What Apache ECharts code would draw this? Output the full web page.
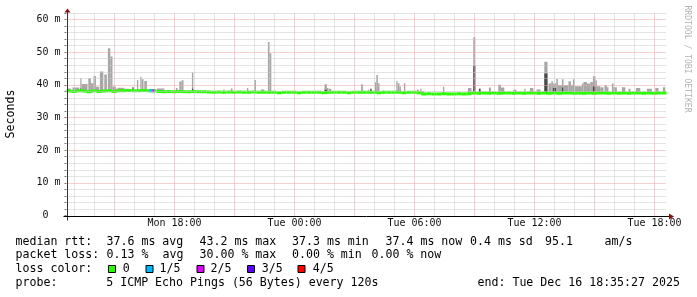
<!DOCTYPE html>
<html><head><meta charset="utf-8">
<script src="https://cdn.jsdelivr.net/npm/echarts@6/dist/echarts.min.js"></script>
<style>html,body{margin:0;padding:0;background:#fff}#c{width:697px;height:297px}</style>
</head><body><div id="c"></div>
<script>
// ---- axis ranges (hours since Mon 00:00) ----
const startHour = 12.6, endHour = 42.6;
const xTickHours = [18, 24, 30, 36, 42];
const xTickLabels = ['Mon 18:00', 'Tue 00:00', 'Tue 06:00', 'Tue 12:00', 'Tue 18:00'];
const yMax = 62;
const yTickValues = [0, 10, 20, 30, 40, 50, 60];
const yTickLabels = ['0  ', '10 m', '20 m', '30 m', '40 m', '50 m', '60 m'];

// ---- median rtt (ms), one value per 15-minute slot starting at startHour ----
const medianSlotHours = 0.25;
const medianValues = [
  38.1, 38.0, 38.2, 38.1, 37.9, 38.2, 38.0, 38.1, 38.2, 38.0,
  38.2, 38.2, 38.3, 38.2, 38.2, 38.3, 38.2, 38.2, 38.0, 37.9,
  38.0, 37.9, 38.0, 37.9, 37.9, 38.0, 37.9, 37.9, 37.8, 37.7,
  37.8, 37.7, 37.8, 37.7, 37.8, 37.7, 37.7, 37.8, 37.7, 37.7,
  37.7, 37.7, 37.6, 37.7, 37.7, 37.7, 37.6, 37.7, 37.7, 37.7,
  37.7, 37.6, 37.7, 37.7, 37.7, 37.7, 37.6, 37.7, 37.7, 37.7,
  37.7, 37.7, 37.6, 37.7, 37.7, 37.7, 37.7, 37.6, 37.7, 37.7,
  37.6, 37.2, 37.3, 37.2, 37.2, 37.3, 37.2, 37.2, 37.3, 37.2,
  37.3, 37.5, 37.4, 37.5, 37.4, 37.5, 37.4, 37.5, 37.5, 37.4,
  37.5, 37.4, 37.5, 37.5, 37.4, 37.5, 37.4, 37.5, 37.4, 37.5,
  37.5, 37.4, 37.5, 37.4, 37.5, 37.4, 37.5, 37.5, 37.4, 37.5,
  37.4, 37.5, 37.4, 37.5, 37.5, 37.4, 37.5, 37.4, 37.5, 37.5
];

// ---- packet-loss episodes on the median line ----
const lossStart = [16.74, 16.90];
const lossEnd   = [16.90, 17.02];
const lossLevel = [1, 2];
const lossColors = ['#26ff00', '#00b8ff', '#dd00ff', '#5e00ff', '#ff0000'];
const lossLabels = ['0', '1/5', '2/5', '3/5', '4/5'];

// ---- smoke (ping spread): start hour, end hour, max ms, inner (dark) ms ----
const smokeStart = [12.65,12.90,13.29,13.35,13.69,13.82,13.95,14.07,14.27,14.49,14.67,14.79,14.90,15.07,15.15,15.49,15.90,16.12,16.29,16.35,16.49,17.12,18.07,18.24,18.35,18.87,20.44,20.82,21.62,21.99,22.32,
  22.67,22.75,25.50,25.62,25.72,27.33,27.67,27.79,28.02,28.09,28.17,28.42,29.09,29.15,29.25,29.47,30.12,30.29,30.35,31.42,
  32.67,32.94,33.22,33.72,34.19,34.32,34.94,35.49,35.77,36.10,36.49,36.70,36.84,36.92,37.09,37.17,37.37,37.45,37.70,37.82,37.92,38.00,38.37,38.45,38.62,38.79,38.92,39.05,39.12,39.29,39.50,39.62,39.87,39.95,40.37,40.70,41.07,41.62,42.04,42.42];
const smokeEnd   = [12.82,13.24,13.35,13.65,13.82,13.95,14.07,14.24,14.44,14.62,14.79,14.90,15.07,15.15,15.49,15.70,15.95,16.19,16.35,16.45,16.62,17.49,18.15,18.35,18.45,18.94,20.50,20.90,21.69,22.07,22.49,
  22.75,22.84,25.62,25.70,25.84,27.42,27.72,27.85,28.09,28.17,28.25,28.49,29.15,29.25,29.32,29.54,30.22,30.35,30.49,31.49,
  32.85,33.04,33.30,33.82,34.32,34.49,35.10,35.55,35.94,36.30,36.65,36.84,36.92,37.09,37.17,37.37,37.45,37.70,37.82,37.92,38.00,38.37,38.45,38.62,38.79,38.92,39.05,39.12,39.29,39.45,39.62,39.70,39.95,40.12,40.54,40.80,41.29,41.87,42.20,42.54];
const smokeMax   = [38.9,39.2,42.0,40.3,42.0,40.5,42.7,39.4,44.1,43.2,51.2,48.7,39.5,38.8,39.1,38.8,39.3,41.5,42.5,41.7,41.2,38.9,39.0,41.0,41.4,43.8,38.6,38.9,39.0,41.5,38.6,
  53.1,49.7,40.2,39.0,38.8,40.2,38.6,38.8,40.8,43.0,40.5,38.3,41.2,40.5,39.5,40.5,38.5,38.9,38.0,39.4,
  39.0,54.6,38.8,39.2,40.0,39.2,38.5,38.8,39.0,38.6,47.1,40.4,41.1,40.4,41.8,39.9,41.7,39.9,41.1,39.9,41.7,39.6,40.4,40.9,40.4,40.9,42.6,41.3,39.6,39.3,39.9,39.3,40.4,39.3,39.3,38.8,39.0,38.8,39.0,39.3];
const smokeInner = [0,0,38.9,0,0,0,0,0,0,0,0,0,0,0,0,0,39.3,0,0,0,0,0,0,0,0,38.8,0,0,0,0,0,
  0,0,38.5,0,0,0,0,38.8,0,0,0,0,0,0,0,0,0,0,0,0,
  0,45.9,38.8,0,0,0,0,0,0,0,43.5,0,0,39.0,0,0,39.2,0,0,0,0,0,0,0,0,0,39.5,0,0,0,0,0,0,0,0,0,0,0,0,0];

function medianAt(h) {
  let i = Math.floor((h - startHour) / medianSlotHours);
  i = Math.max(0, Math.min(medianValues.length - 1, i));
  return medianValues[i];
}

const smokeData = smokeStart.map((s, i) => [s, smokeEnd[i], smokeMax[i], smokeInner[i]]);
const medianData = medianValues.map((v, i) => [startHour + i * medianSlotHours, startHour + (i + 1) * medianSlotHours, v, 0]);
lossStart.forEach((s, i) => medianData.push([s, lossEnd[i], medianAt(s), lossLevel[i]]));

// grid lines (minor every hour / 2 ms, major every 3 h / 10 ms)
const gridMarks = [];
for (let h = 13; h <= 42; h++) {
  gridMarks.push({ xAxis: h, lineStyle: { type: [1, 1], width: 1, color: h % 3 === 0 ? '#eda0a0' : '#c8c8c8' } });
}
for (let v = 2; v <= yMax; v += 2) {
  gridMarks.push({ yAxis: v, lineStyle: { type: [1, 1], width: 1, color: v % 10 === 0 ? '#eda0a0' : '#c8c8c8' } });
}

const MONO = 'DejaVu Sans Mono';
const chart = echarts.init(document.getElementById('c'), null, { renderer: 'canvas', devicePixelRatio: 1 });

const option = {
  animation: false,
  backgroundColor: '#fff',
  grid: { left: 66.5, right: 30.5, top: 13, bottom: 81.5 },
  xAxis: {
    type: 'value', min: startHour, max: endHour,
    axisLine: { show: false }, axisTick: { show: false }, splitLine: { show: false },
    axisLabel: {
      customValues: xTickHours,
      formatter: v => { const i = xTickHours.indexOf(Math.round(v)); return i >= 0 ? xTickLabels[i] : ''; },
      fontFamily: MONO, fontSize: 10, color: '#111', margin: 3
    }
  },
  yAxis: {
    type: 'value', min: 0, max: yMax, interval: 2,
    axisLine: { show: false },
    axisTick: { show: true, length: 2, lineStyle: { color: '#777' } },
    splitLine: { show: false },
    axisLabel: {
      formatter: v => { const i = yTickValues.indexOf(v); return i >= 0 ? yTickLabels[i] : ''; },
      fontFamily: MONO, fontSize: 10, color: '#111', margin: 6
    }
  },
  series: [
    {
      type: 'line', data: [], silent: true, z: 1,
      markLine: {
        silent: true, symbol: 'none', label: { show: false },
        lineStyle: { type: [1, 1], width: 1 },
        emphasis: { disabled: true },
        data: gridMarks
      }
    },
    {
      type: 'custom', z: 3, clip: true, silent: true,
      encode: { x: [0, 1], y: [2, 3] },
      data: smokeData,
      renderItem(params, api) {
        const s = api.value(0), e = api.value(1), mx = api.value(2), dk = api.value(3);
        const base = medianAt(s) - 0.3;
        const p0 = api.coord([s, base]);
        const p1 = api.coord([e, mx]);
        const w = Math.max(1, p1[0] - p0[0]);
        const ch = [{ type: 'rect', shape: { x: p0[0], y: p1[1], width: w, height: p0[1] - p1[1] }, style: { fill: '#a6a6a6' } }];
        if (dk > 0) {
          const p2 = api.coord([e, dk]);
          ch.push({ type: 'rect', shape: { x: p0[0], y: p2[1], width: w, height: p0[1] - p2[1] }, style: { fill: '#4a4a4a' } });
        }
        return { type: 'group', children: ch };
      }
    },
    {
      type: 'custom', z: 4, clip: true, silent: true,
      encode: { x: [0, 1], y: 2 },
      data: medianData,
      renderItem(params, api) {
        const s = api.value(0), e = api.value(1), v = api.value(2), lvl = api.value(3);
        const p0 = api.coord([s, v]);
        const p1 = api.coord([e, v]);
        return { type: 'rect', shape: { x: p0[0], y: p0[1] - 1.5, width: p1[0] - p0[0], height: 3 }, style: { fill: lossColors[lvl] } };
      }
    }
  ]
};
chart.setOption(option);

// ---- decorations: axis lines with arrows, titles, legend text ----
const pOrigin = chart.convertToPixel({ gridIndex: 0 }, [startHour, 0]);
const pTop = chart.convertToPixel({ gridIndex: 0 }, [startHour, yMax]);
const pRight = chart.convertToPixel({ gridIndex: 0 }, [endHour, 0]);
const ax = Math.round(pOrigin[0]) + 0.5, ay = Math.round(pOrigin[1]) + 0.5;
const g = [];
g.push({ type: 'line', shape: { x1: ax, y1: ay + 4, x2: ax, y2: pTop[1] - 2 }, style: { stroke: '#333', lineWidth: 1 }, z: 10 });
g.push({ type: 'line', shape: { x1: ax - 4, y1: ay, x2: pRight[0] + 3, y2: ay }, style: { stroke: '#000', lineWidth: 1 }, z: 10 });
g.push({ type: 'polygon', shape: { points: [[ax - 3, pTop[1] - 0.5], [ax + 3, pTop[1] - 0.5], [ax, pTop[1] - 4.5]] }, style: { fill: '#8a1010' }, z: 11 });
g.push({ type: 'polygon', shape: { points: [[pRight[0] + 2.5, ay - 3], [pRight[0] + 2.5, ay + 3], [pRight[0] + 7.5, ay]] }, style: { fill: '#8a1010' }, z: 11 });

g.push({ type: 'text', x: 11, y: 114, rotation: Math.PI / 2, style: { text: 'Seconds', font: '11.6px "DejaVu Sans Mono"', fill: '#000', align: 'center', verticalAlign: 'middle' } });
g.push({ type: 'text', x: 687, y: 59, rotation: -Math.PI / 2, style: { text: 'RRDTOOL / TOBI OETIKER', font: '8.1px "DejaVu Sans Mono"', fill: '#b4b4b4', align: 'center', verticalAlign: 'middle' } });

const legendFont = '11.6px "DejaVu Sans Mono"';
const textChunks = [
  ['median rtt:', 15.5, 241.5], ['37.6 ms avg', 106.5, 241.5], ['43.2 ms max', 199.5, 241.5], ['37.3 ms min', 292, 241.5],
  ['37.4 ms now', 385.5, 241.5], ['0.4 ms sd', 470, 241.5], ['95.1', 545, 241.5], ['am/s', 604.5, 241.5],
  ['packet loss:', 15.5, 255.3], ['0.13 %', 106.5, 255.3], ['avg', 162.5, 255.3], ['30.00 % max', 199.5, 255.3],
  ['0.00 % min', 292, 255.3], ['0.00 % now', 371.5, 255.3],
  ['loss color:', 15.5, 269.2],
  ['probe:       5 ICMP Echo Pings (56 Bytes) every 120s', 15.5, 283.2], ['end: Tue Dec 16 18:35:27 2025', 477.5, 283.2]
];
textChunks.forEach(t => g.push({ type: 'text', x: t[1], y: t[2], style: { text: t[0], font: legendFont, fill: '#000', verticalAlign: 'middle' } }));
const swatchX = [108.5, 146, 197, 247.5, 298];
const swatchLabelX = [122.7, 159.5, 210.5, 261.7, 312.7];
lossLabels.forEach((lab, i) => {
  g.push({ type: 'rect', shape: { x: swatchX[i], y: 265.5, width: 7, height: 7 }, style: { fill: lossColors[i], stroke: '#000', lineWidth: 1 } });
  g.push({ type: 'text', x: swatchLabelX[i], y: 269.2, style: { text: lab, font: legendFont, fill: '#000', verticalAlign: 'middle' } });
});
chart.setOption({ graphic: { elements: g } });
</script>
</body></html>
